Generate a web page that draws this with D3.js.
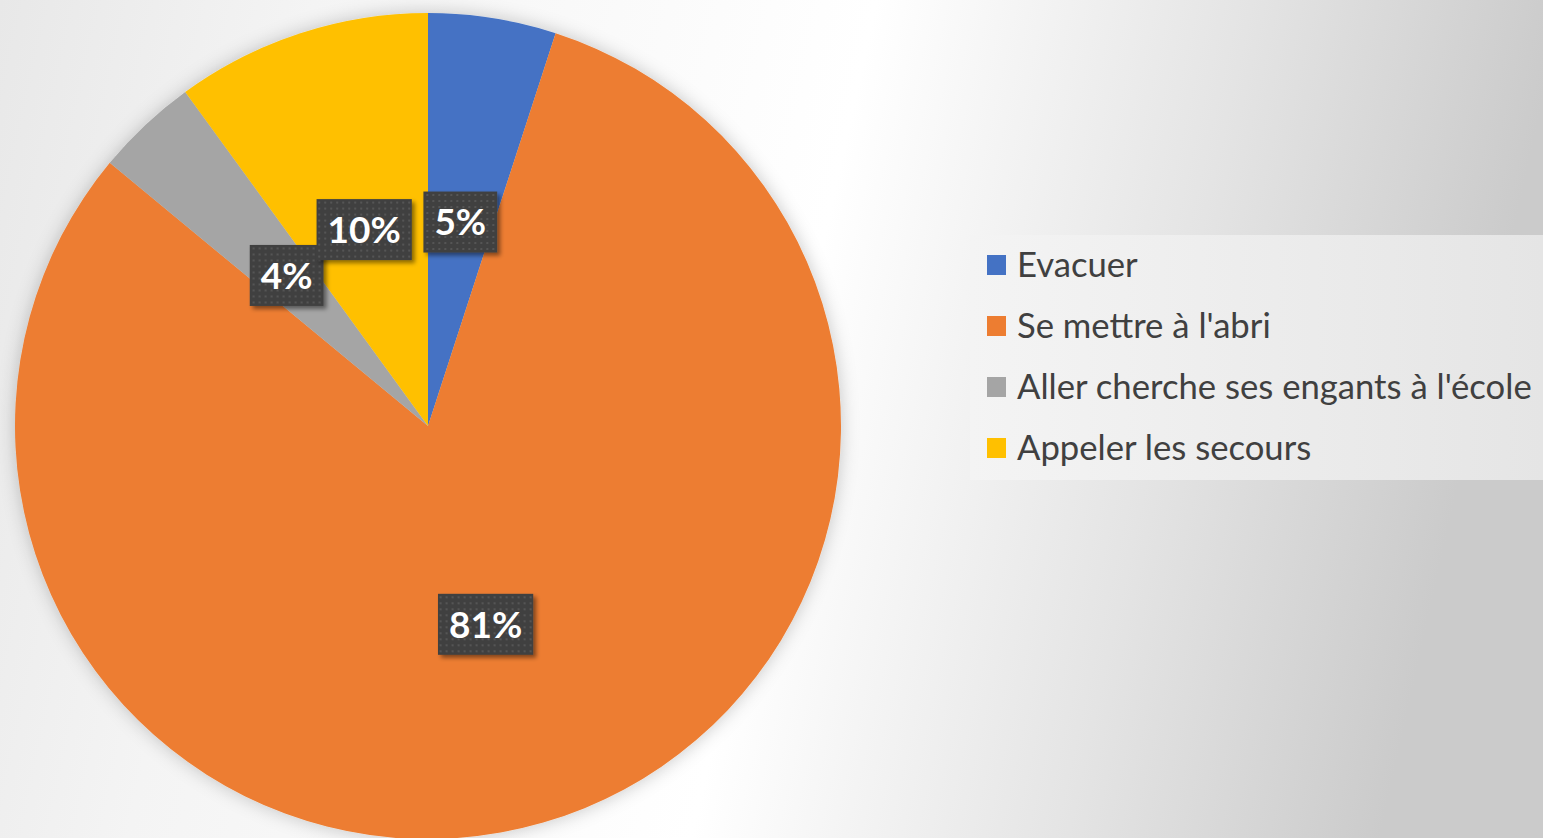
<!DOCTYPE html>
<html lang="fr">
  <head>
    <meta charset="utf-8" />
    <title>Pie chart</title>
    <script src="https://cdnjs.cloudflare.com/ajax/libs/d3/7.8.5/d3.min.js"></script>
    <style>
      html, body { margin: 0; padding: 0; overflow: hidden; }
      svg { display: block; }
      .legend text { font-family: Lato, sans-serif; fill: #404040; }
      .label text { font-family: Lato, sans-serif; font-weight: bold; fill: #fff; }
    </style>
  </head>
  <body>
    <div id="chart"></div>
    <script>
      const categories = ['Evacuer', "Se mettre à l'abri", "Aller cherche ses engants à l'école", 'Appeler les secours'];
      const values = [5, 81, 4, 10];
      const colors = ['#4472c4', '#ed7d31', '#a5a5a5', '#ffc000'];

      const width = 1543;
      const height = 838;
      const cx = 428, cy = 426, radius = 413;

      const svg = d3.select('#chart').append('svg')
        .attr('width', width)
        .attr('height', height);

      const defs = svg.append('defs');

      // background gradient: grey left, white band, darker grey right
      const bg = defs.append('linearGradient')
        .attr('id', 'bg')
        .attr('x1', 0).attr('y1', 0).attr('x2', 1).attr('y2', 0.12);
      bg.append('stop').attr('offset', '0%').attr('stop-color', '#e8e8e8');
      bg.append('stop').attr('offset', '20%').attr('stop-color', '#f4f4f4');
      bg.append('stop').attr('offset', '56%').attr('stop-color', '#ffffff');
      bg.append('stop').attr('offset', '80%').attr('stop-color', '#e4e4e4');
      bg.append('stop').attr('offset', '100%').attr('stop-color', '#cbcbcb');

      const lg = defs.append('linearGradient')
        .attr('id', 'legendBg')
        .attr('x1', 0).attr('y1', 0).attr('x2', 1).attr('y2', 0);
      lg.append('stop').attr('offset', '0%').attr('stop-color', '#f4f4f4');
      lg.append('stop').attr('offset', '100%').attr('stop-color', '#e5e5e5');

      const glow = defs.append('filter')
        .attr('id', 'glow')
        .attr('x', '-10%').attr('y', '-10%').attr('width', '120%').attr('height', '120%');
      glow.append('feDropShadow')
        .attr('dx', 0).attr('dy', 0)
        .attr('stdDeviation', 9)
        .attr('flood-color', '#000')
        .attr('flood-opacity', 0.22);

      const boxShadow = defs.append('filter')
        .attr('id', 'boxShadow')
        .attr('x', '-20%').attr('y', '-20%').attr('width', '150%').attr('height', '150%');
      boxShadow.append('feDropShadow')
        .attr('dx', 3).attr('dy', 3)
        .attr('stdDeviation', 2)
        .attr('flood-color', '#000')
        .attr('flood-opacity', 0.45);

      // dotted texture for the label boxes
      const dots = defs.append('pattern')
        .attr('id', 'dots')
        .attr('patternUnits', 'userSpaceOnUse')
        .attr('width', 6).attr('height', 6);
      dots.append('rect').attr('width', 6).attr('height', 6).attr('fill', '#404040');
      dots.append('rect').attr('x', 2).attr('y', 2).attr('width', 2).attr('height', 2).attr('fill', '#555555');

      svg.append('rect')
        .attr('width', width)
        .attr('height', height)
        .attr('fill', 'url(#bg)');

      const pie = d3.pie().sort(null).value(d => d);
      const arcs = pie(values);
      const arc = d3.arc().innerRadius(0).outerRadius(radius);

      const g = svg.append('g')
        .attr('transform', `translate(${cx},${cy})`);

      g.append('g')
        .attr('filter', 'url(#glow)')
        .selectAll('path')
        .data(arcs)
        .join('path')
          .attr('d', arc)
          .attr('fill', (d, i) => colors[i]);

      // data labels
      const labelFont = 37;
      const labels = g.selectAll('.label')
        .data(arcs)
        .join('g')
          .attr('class', 'label')
          .attr('transform', d => `translate(${arc.centroid(d)})`);

      labels.each(function (d) {
        const lab = d3.select(this);
        const rect = lab.append('rect');
        const t = lab.append('text')
          .attr('text-anchor', 'middle')
          .attr('dy', '0.36em')
          .style('font-size', labelFont + 'px')
          .text(d.data + '%');
        const w = t.node().getComputedTextLength() + 22;
        const h = 61;
        rect.attr('x', -w / 2).attr('y', -h / 2)
          .attr('width', w).attr('height', h)
          .attr('fill', 'url(#dots)')
          .attr('filter', 'url(#boxShadow)');
      });

      // legend
      const legendX = 970, legendY = 235;
      svg.append('rect')
        .attr('x', legendX)
        .attr('y', legendY)
        .attr('width', width - legendX)
        .attr('height', 245)
        .attr('fill', 'url(#legendBg)');

      const legend = svg.append('g').attr('class', 'legend');
      const items = legend.selectAll('g')
        .data(categories)
        .join('g')
          .attr('transform', (d, i) => `translate(987,${265 + i * 61})`);

      items.append('rect')
        .attr('x', 0).attr('y', -10)
        .attr('width', 19).attr('height', 20)
        .attr('fill', (d, i) => colors[i]);

      const texts = items.append('text')
        .attr('x', 30)
        .attr('dy', '0.36em')
        .style('font-size', '100px')
        .text(d => d);

      // fit the longest entry to the reference width
      const longest = d3.max(texts.nodes(), n => n.getComputedTextLength());
      const fs = 100 * 515 / longest;
      texts.style('font-size', fs + 'px');
    </script>
  </body>
</html>
